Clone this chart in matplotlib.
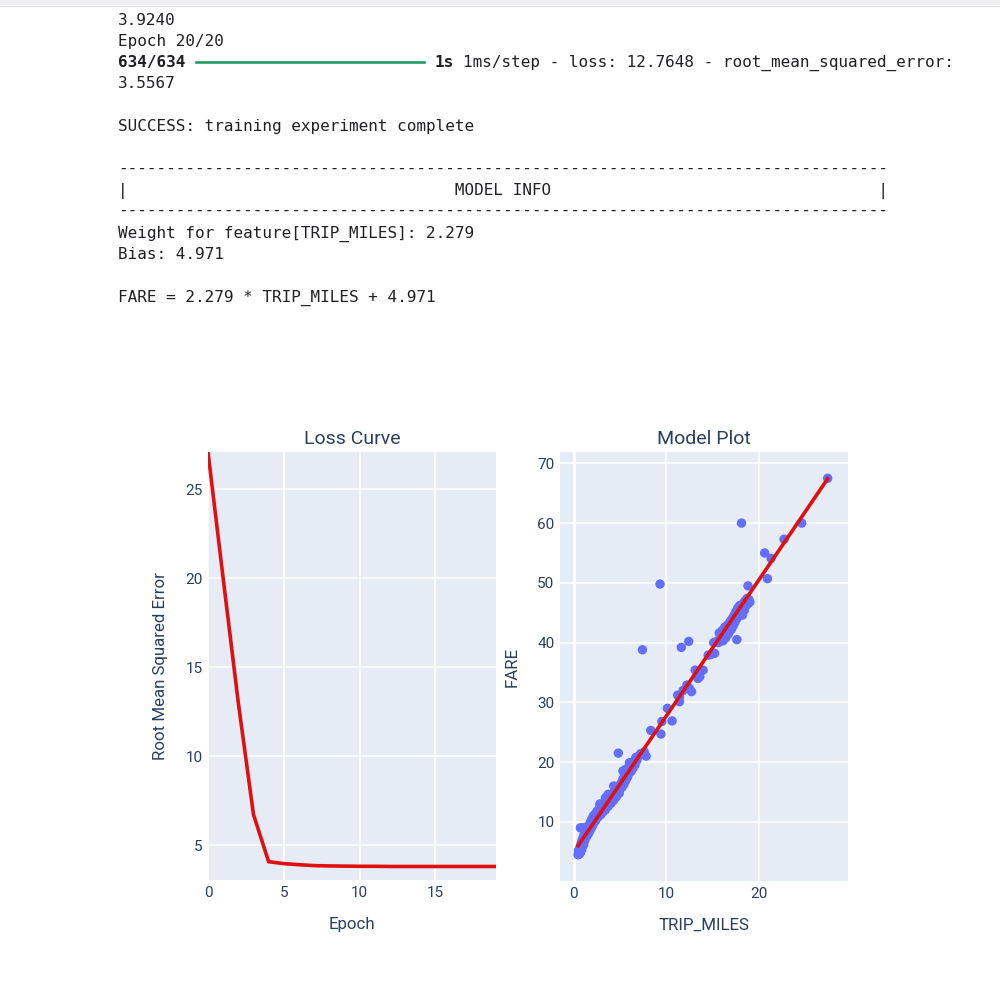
import matplotlib
matplotlib.use("Agg")
import matplotlib.pyplot as plt
from matplotlib.lines import Line2D
from matplotlib.patches import Rectangle
import numpy as np

# ---------------- data ----------------
epochs = list(range(20))
rmse = [27.1, 20.0, 13.0, 6.72, 4.07, 3.96, 3.90, 3.85, 3.83, 3.82,
        3.81, 3.81, 3.80, 3.80, 3.80, 3.80, 3.80, 3.80, 3.80, 3.80]

trip_miles = [
    0.45, 0.5, 0.5, 0.55, 0.6, 0.6, 0.65, 0.7, 0.7, 0.75, 0.8, 0.8, 0.85, 0.9, 0.9, 0.95,
    1.0, 1.0, 1.05, 1.1, 1.1, 1.15, 1.2, 1.2, 1.25, 1.3, 1.35, 1.4, 1.45, 1.5, 1.55, 1.6,
    1.65, 1.7, 1.75, 1.8, 1.85, 1.9, 1.95, 2.0, 2.05, 2.1, 2.15, 2.2, 2.3, 2.35, 2.4, 2.5,
    0.7, 0.9, 1.1, 1.3,
    2.6, 2.7, 2.8, 2.9, 3.0, 3.0, 3.1, 3.2, 3.3, 3.4, 3.5, 3.6, 3.7, 3.8, 3.9, 4.0,
    4.1, 4.2, 4.3, 4.4, 4.5, 4.6, 4.7, 4.8, 4.9, 5.0, 2.8, 3.4, 3.7, 4.3,
    5.1, 5.2, 5.3, 5.4, 5.5, 5.6, 5.7, 5.8, 5.9, 6.0, 6.1, 6.2, 6.3, 6.4, 6.5, 6.6,
    6.8, 7.0, 7.2, 5.6, 5.3, 6.0, 6.7, 7.8, 7.6,
    8.3, 9.4, 9.5, 10.6, 10.1, 11.4, 11.2, 11.8, 11.4, 12.5, 12.2, 12.7, 13.1, 13.6,
    13.95, 13.4, 14.5, 15.2, 14.8, 15.1,
    15.4, 15.6, 15.7, 15.9, 16.0, 16.1, 16.2, 16.3, 16.4, 16.5, 16.6, 16.7, 16.8, 16.9,
    17.0, 17.1, 17.2, 17.3, 17.4, 17.5, 17.6, 17.7, 17.8, 17.9, 18.0, 18.1, 18.2, 18.3,
    18.4, 18.5, 18.6, 18.7, 18.8, 18.9, 19.0, 17.6,
    7.4, 9.3, 11.6, 12.4, 18.1, 24.6, 22.7, 20.6, 21.3, 20.9, 18.8, 27.4, 4.8,
]
fare = [
    4.5, 4.8, 5.2, 4.6, 5.0, 5.5, 4.7, 5.3, 6.0, 5.0, 5.8, 6.5, 5.4, 6.2, 7.0, 5.9,
    6.6, 7.4, 6.2, 7.0, 7.8, 6.8, 7.5, 8.2, 7.2, 7.9, 8.6, 7.6, 8.3, 9.0, 8.0, 8.7,
    9.5, 8.4, 9.2, 10.0, 8.9, 9.6, 10.5, 9.3, 10.1, 11.0, 9.8, 10.6, 11.3, 10.2, 11.0, 11.8,
    9.0, 9.0, 9.0, 9.1,
    10.8, 11.6, 12.5, 11.2, 12.0, 12.8, 11.6, 12.4, 13.2, 12.0, 12.8, 13.8, 12.6, 13.4, 14.3, 13.1,
    13.9, 14.8, 13.6, 14.5, 15.3, 14.2, 15.0, 15.9, 14.8, 15.6, 13.0, 14.0, 14.6, 16.0,
    16.5, 15.8, 17.2, 16.3, 17.8, 16.9, 18.6, 17.5, 19.0, 18.2, 19.4, 18.5, 19.8, 19.0, 20.2, 19.5,
    20.3, 21.0, 21.4, 18.8, 18.5, 19.9, 20.8, 21.0, 21.7,
    25.3, 24.7, 26.8, 26.9, 29.0, 30.1, 31.2, 32.0, 30.9, 32.3, 32.9, 31.8, 35.4, 34.3,
    35.4, 34.0, 37.9, 38.2, 38.0, 40.0,
    40.2, 40.0, 41.6, 40.5, 42.0, 40.3, 41.2, 42.6, 40.8, 41.8, 43.0, 41.5, 42.4, 43.6,
    42.2, 44.0, 42.8, 44.6, 43.4, 45.2, 44.0, 45.8, 44.6, 46.2, 45.0, 46.0, 44.6, 46.6,
    45.4, 47.0, 46.2, 47.4, 46.5, 47.2, 46.8, 40.5,
    38.8, 49.8, 39.2, 40.2, 60.0, 60.0, 57.3, 55.0, 54.1, 50.7, 49.5, 67.5, 21.5,
]

weight = 2.279
bias = 4.971

console_lines = [
    "3.9240",
    "Epoch 20/20",
    None,  # progress bar line, drawn separately
    "3.5567",
    "",
    "SUCCESS: training experiment complete",
    "",
    "-" * 80,
    "|" + "MODEL INFO".center(78) + "|",
    "-" * 80,
    "Weight for feature[TRIP_MILES]: 2.279",
    "Bias: 4.971",
    "",
    "FARE = 2.279 * TRIP_MILES + 4.971",
]

# ---------------- figure ----------------
W, H = 1000, 983
fig = plt.figure(figsize=(W / 100, H / 100), dpi=100)
fig.patch.set_facecolor("white")


def fx(px):
    return px / W


def fy(py):
    return 1 - py / H


# thin grey band at top
fig.patches.append(Rectangle((0, fy(5)), 1, 5 / H, transform=fig.transFigure,
                             facecolor="#f0f0f3", edgecolor="none"))
fig.lines.append(Line2D([0, 1], [fy(5.5), fy(5.5)], transform=fig.transFigure,
                        color="#e2e2e6", lw=1))

mono = "DejaVu Sans Mono"
tsize = 11.5
tcolor = "#202124"
y0 = 19
lh = 21.3
boff = 5.6  # baseline offset below the visual centre of capitals
for i, line in enumerate(console_lines):
    yc = y0 + i * lh
    yb = yc + boff
    if line is None:
        fig.text(fx(118), fy(yb), "634/634", family=mono, size=tsize, weight="bold",
                 color=tcolor, va="baseline", ha="left")
        fig.lines.append(Line2D([fx(196), fx(424)], [fy(yc), fy(yc)],
                                transform=fig.transFigure, color="#16955f", lw=1.8))
        fig.text(fx(434), fy(yb), "1s", family=mono, size=tsize, weight="bold",
                 color=tcolor, va="baseline", ha="left")
        fig.text(fx(463), fy(yb),
                 "1ms/step - loss: 12.7648 - root_mean_squared_error:",
                 family=mono, size=tsize, color=tcolor, va="baseline", ha="left")
    elif line:
        if set(line) == {"-"}:
            fig.text(fx(118), fy(yc), line, family=mono, size=tsize,
                     color=tcolor, va="center", ha="left")
        else:
            fig.text(fx(118), fy(yb), line, family=mono, size=tsize,
                     color=tcolor, va="baseline", ha="left")

# ---------------- plotly-like styling ----------------
pcolor = "#2a3f5f"
bg = "#e5ecf6"
font = "Roboto"


def style(ax):
    ax.set_facecolor(bg)
    for s in ax.spines.values():
        s.set_visible(False)
    ax.grid(True, color="white", lw=1.1)
    ax.set_axisbelow(True)
    ax.tick_params(length=0, labelsize=11, labelcolor=pcolor, pad=4)
    for lab in ax.get_xticklabels() + ax.get_yticklabels():
        lab.set_family(font)


ax1 = fig.add_axes([fx(208), fy(880), fx(496) - fx(208), (880 - 452) / H])
ax2 = fig.add_axes([fx(560), fy(881), fx(848) - fx(560), (881 - 452) / H])

# Loss curve
ax1.plot(epochs, rmse, color="#e01010", lw=2.6, solid_joinstyle="miter", zorder=3)
ax1.set_xlim(0, max(epochs))
ax1.set_ylim(min(rmse) * 0.8, max(rmse))
ax1.set_xticks([0, 5, 10, 15])
ax1.set_yticks([5, 10, 15, 20, 25])
style(ax1)
ax1.set_title("Loss Curve", family=font, size=14, color=pcolor, pad=6)
ax1.set_xlabel("Epoch", family=font, size=12.2, color=pcolor)
ax1.set_ylabel("Root Mean Squared Error", family=font, size=12.2, color=pcolor)
ax1.xaxis.set_label_coords(0.5, -(925 - 880) / 428)
ax1.xaxis.label.set_va("center")
ax1.yaxis.set_label_coords(-(208 - 160) / 288, 0.5)
ax1.yaxis.label.set_va("center")

# Model plot
ax2.scatter(trip_miles, fare, s=46, color="#636efa", edgecolors="none", zorder=3)
xs = np.array([min(trip_miles), max(trip_miles)])
ax2.plot(xs, weight * xs + bias, color="#e01010", lw=2.6, zorder=4)
ax2.set_xlim(-1.5, 29.6)
ax2.set_ylim(0.1, 71.9)
ax2.set_xticks([0, 10, 20])
ax2.set_yticks([10, 20, 30, 40, 50, 60, 70])
style(ax2)
ax2.axvline(0, color="white", lw=2, zorder=1)
ax2.set_title("Model Plot", family=font, size=14, color=pcolor, pad=6)
ax2.set_xlabel("TRIP_MILES", family=font, size=12.2, color=pcolor)
ax2.set_ylabel("FARE", family=font, size=12.2, color=pcolor)
ax2.xaxis.set_label_coords(0.5, -(925 - 881) / 429)
ax2.xaxis.label.set_va("center")
ax2.yaxis.set_label_coords(-(560 - 512) / 288, 0.5)
ax2.yaxis.label.set_va("center")

fig.savefig("out.png", dpi=100)
